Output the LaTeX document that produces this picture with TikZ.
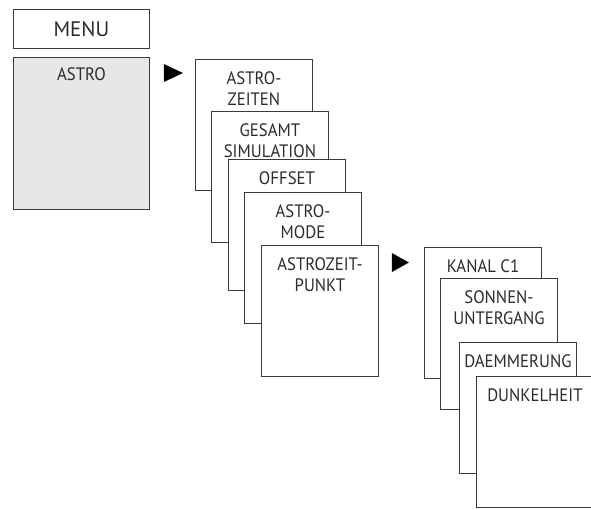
\documentclass[tikz,border=0pt]{standalone}
\usepackage{fontspec}
\setmainfont{PT Sans}[FakeStretch=0.93]
\newfontfamily\menufont{PT Sans}
\usetikzlibrary{positioning,calc}

\definecolor{linegray}{HTML}{3A3A3A}
\definecolor{textgray}{HTML}{2B2B2B}
\definecolor{astrogray}{HTML}{E6E7E8}

\tikzset{
  page/.style={draw=linegray, line width=0.9pt, fill=white, inner sep=0pt,
    minimum width=117pt, minimum height=131pt, anchor=north west},
  pagetext/.style={anchor=north, align=center, inner sep=0pt, yshift=-12pt,
    text=textgray, font=\fontsize{18}{21}\selectfont},
  pointer/.style={fill=black}
}

\begin{document}
\begin{tikzpicture}[x=1pt, y=-1pt]

        % fix the frame
        \useasboundingbox (0,0) rectangle (591,509);

        % main menu
        \node[draw=linegray, line width=0.9pt, minimum width=136pt, minimum height=39pt,
          anchor=north west, inner sep=0pt, text=textgray,
          font=\menufont\fontsize{21}{25}\selectfont] (menu) at (13,9) {MENU};
        \node[page, fill=astrogray, minimum width=136pt, minimum height=152pt,
          label={[pagetext, yshift=2pt]north:ASTRO}] (astro) at (13,57) {};

        % first stack
        \node[page, label={[pagetext]north:ASTRO-\\ZEITEN}] (zeiten) at (195,59) {};
        \node[page, label={[pagetext]north:GESAMT\\SIMULATION}] (simulation) at (211,111) {};
        \node[page, label={[pagetext]north:OFFSET}] (offset) at (228,159) {};
        \node[page, label={[pagetext]north:ASTRO-\\MODE}] (mode) at (244,192) {};
        \node[page, label={[pagetext]north:ASTROZEIT-\\PUNKT}] (zeitpunkt) at (261,245) {};

        % second stack
        \node[page, label={[pagetext]north:KANAL C1}] (kanal) at (424,247) {};
        \node[page, label={[pagetext]north:SONNEN-\\UNTERGANG}] (untergang) at (440,278) {};
        \node[page, label={[pagetext]north:DAEMMERUNG}] (daemmerung) at (459,342) {};
        \node[page, label={[pagetext]north:DUNKELHEIT}] (dunkelheit) at (476,376) {};

        % arrows
        \fill[pointer] ($(astro.north east)+(14,7)$) -- ++(0,18) -- ++(19,-9) -- cycle;
        \fill[pointer] ($(zeitpunkt.north east)+(13,8)$) -- ++(0,19) -- ++(17,-9.5) -- cycle;

\end{tikzpicture}
\end{document}
